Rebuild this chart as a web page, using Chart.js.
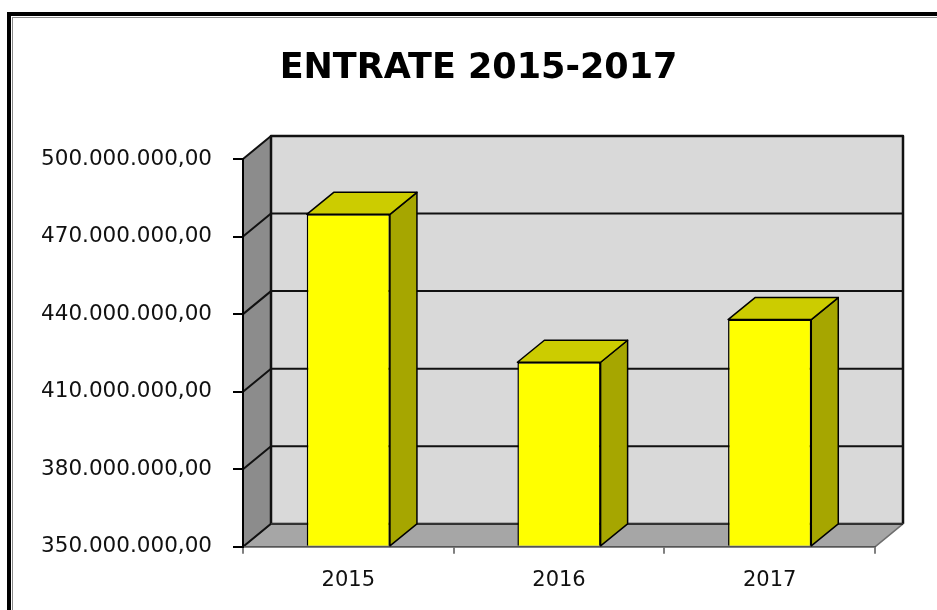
<!DOCTYPE html>
<html>
<head>
<meta charset="utf-8">
<script src="https://cdn.jsdelivr.net/npm/chart.js@4"></script>
<style>
html,body{margin:0;padding:0;background:#fff;}
canvas{display:block;}
</style>
</head>
<body>
<canvas id="c" width="937" height="610"></canvas>
<script>
const categories = ['2015', '2016', '2017'];
const entrate = [478600000, 421400000, 437900000];
const yTicks = [350000000, 380000000, 410000000, 440000000, 470000000, 500000000];
const titleText = 'ENTRATE 2015-2017';

function fmtIt(v) {
  const s = Math.round(v).toString();
  let out = '';
  for (let i = 0; i < s.length; i++) {
    if (i > 0 && (s.length - i) % 3 === 0) out += '.';
    out += s[i];
  }
  return out + ',00';
}

const WDX = 28, WDY = -23;   // wall depth offset
const BDX = 27, BDY = -22;   // bar depth offset

const threeD = {
  id: 'threeD',
  afterLayout(chart) {
    if (chart.titleBlock) { chart.titleBlock.left = 82; }
  },
  beforeDraw(chart) {
    const ctx = chart.ctx;
    const a = chart.chartArea;
    const ys = chart.scales.y;
    const L = a.left, R = a.right, T = a.top, B = a.bottom;
    ctx.save();
    // frame
    ctx.fillStyle = '#000';
    ctx.fillRect(7, 12, 930, 4);
    ctx.fillRect(7, 12, 4, 598);
    ctx.fillStyle = '#8a8a8a';
    ctx.fillRect(12, 17, 925, 1);
    ctx.fillRect(12, 17, 1, 593);

    ctx.lineJoin = 'round';
    // back wall
    ctx.fillStyle = '#d9d9d9';
    ctx.fillRect(L + WDX, T + WDY, R - L, B - T);
    // side wall
    ctx.beginPath();
    ctx.moveTo(L, T); ctx.lineTo(L + WDX, T + WDY); ctx.lineTo(L + WDX, B + WDY); ctx.lineTo(L, B); ctx.closePath();
    ctx.fillStyle = '#8c8c8c';
    ctx.fill();
    // floor
    ctx.beginPath();
    ctx.moveTo(L, B); ctx.lineTo(L + WDX, B + WDY); ctx.lineTo(R + WDX, B + WDY); ctx.lineTo(R, B); ctx.closePath();
    ctx.fillStyle = '#a6a6a6';
    ctx.fill();
    ctx.strokeStyle = '#6e6e6e';
    ctx.lineWidth = 1.5;
    ctx.stroke();

    // gridlines on back wall and side wall
    ctx.strokeStyle = '#111';
    ctx.lineWidth = 2;
    yTicks.forEach(v => {
      const y = ys.getPixelForValue(v);
      ctx.beginPath();
      ctx.moveTo(L, y); ctx.lineTo(L + WDX, y + WDY); ctx.lineTo(R + WDX, y + WDY);
      ctx.stroke();
    });
    // back wall outline
    ctx.lineWidth = 2.5;
    ctx.beginPath();
    ctx.moveTo(L + WDX, B + WDY); ctx.lineTo(L + WDX, T + WDY); ctx.lineTo(R + WDX, T + WDY); ctx.lineTo(R + WDX, B + WDY);
    ctx.stroke();
    ctx.lineWidth = 1.5;
    ctx.strokeStyle = '#333';
    ctx.beginPath();
    ctx.moveTo(L + WDX, B + WDY); ctx.lineTo(R + WDX, B + WDY);
    ctx.stroke();
    ctx.restore();
  },
  afterDatasetsDraw(chart) {
    const ctx = chart.ctx;
    const meta = chart.getDatasetMeta(0);
    const a = chart.chartArea;
    ctx.save();
    ctx.lineJoin = 'round';
    ctx.strokeStyle = '#000';
    ctx.lineWidth = 1.5;
    meta.data.forEach(bar => {
      const p = bar.getProps(['x', 'y', 'base', 'width'], true);
      const l = p.x - p.width / 2, r = p.x + p.width / 2, t = p.y;
      const b = Math.min(p.base, a.bottom);
      // side face
      ctx.beginPath();
      ctx.moveTo(r, t); ctx.lineTo(r + BDX, t + BDY); ctx.lineTo(r + BDX, b + BDY); ctx.lineTo(r, b); ctx.closePath();
      ctx.fillStyle = '#a6a600';
      ctx.fill(); ctx.stroke();
      // top face
      ctx.beginPath();
      ctx.moveTo(l, t); ctx.lineTo(l + BDX, t + BDY); ctx.lineTo(r + BDX, t + BDY); ctx.lineTo(r, t); ctx.closePath();
      ctx.fillStyle = '#cccc00';
      ctx.fill(); ctx.stroke();
    });
    ctx.restore();
  }
};

new Chart(document.getElementById('c'), {
  type: 'bar',
  data: {
    labels: categories,
    datasets: [{
      data: entrate,
      base: yTicks[0],
      backgroundColor: '#ffff00',
      borderColor: '#000',
      borderWidth: 1.5,
      categoryPercentage: 1,
      barPercentage: 0.395
    }]
  },
  options: {
    responsive: false,
    animation: false,
    layout: { padding: { left: 0, right: 62, top: 0, bottom: 3 } },
    plugins: {
      legend: { display: false },
      tooltip: { enabled: false },
      title: {
        display: true,
        text: titleText,
        color: '#000',
        font: { family: 'DejaVu Sans', size: 35, weight: 'bold', lineHeight: 1.2 },
        padding: { top: 47.5, bottom: 69.5 }
      }
    },
    scales: {
      x: {
        grid: { display: true, drawOnChartArea: false, drawTicks: true, tickLength: 7, color: '#808080', lineWidth: 2, offset: true },
        border: { display: true, color: '#555', width: 1.5 },
        ticks: { color: '#111', padding: 14, font: { family: 'DejaVu Sans', size: 21 } }
      },
      y: {
        min: 350000000,
        max: 500000000,
        afterBuildTicks: s => { s.ticks = yTicks.map(v => ({ value: v })); },
        afterFit: s => { s.width = 243; },
        grid: { display: true, drawOnChartArea: false, drawTicks: true, tickLength: 10, color: '#000', lineWidth: 2 },
        border: { display: true, color: '#000', width: 2 },
        ticks: { color: '#111', padding: 21, font: { family: 'DejaVu Sans', size: 21.5 }, callback: v => fmtIt(v) }
      }
    }
  },
  plugins: [threeD]
});
</script>
</body>
</html>
